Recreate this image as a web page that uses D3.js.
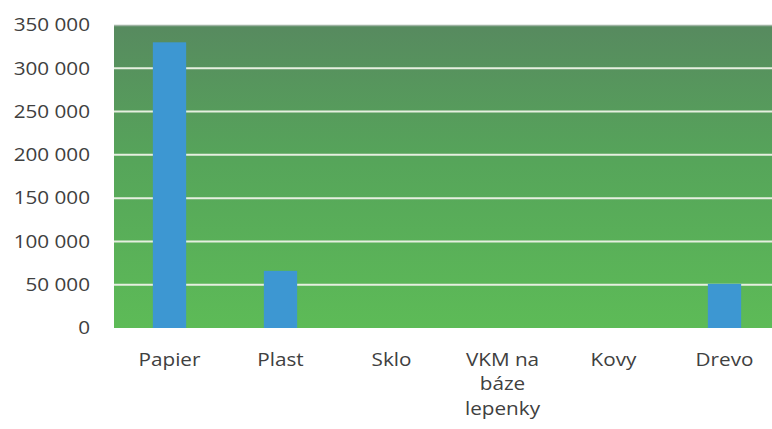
<!DOCTYPE html>
<html><head><meta charset="utf-8">
<script src="https://cdn.jsdelivr.net/npm/d3@7/dist/d3.min.js"></script>
<style>body{margin:0;background:#fff}svg{display:block}</style>
</head><body>
<script>
const categories = [["Papier"],["Plast"],["Sklo"],["VKM na","báze","lepenky"],["Kovy"],["Drevo"]];
const values = [330000, 66000, 0, 0, 0, 51000];
const ticks = [0,50000,100000,150000,200000,250000,300000,350000];

(function(){
const W=772,H=429;
const svg=d3.select("body").append("svg").attr("width",W).attr("height",H);
const pL=114,pR=780,pT=25,pB=328;
const x=d3.scaleBand().domain(d3.range(categories.length)).range([pL,pR]).paddingInner(0.7).paddingOuter(0.35);
const y=d3.scaleLinear().domain([0,350000]).range([pB,pT]);
const defs=svg.append("defs");
const g=defs.append("linearGradient").attr("id","bg").attr("x1",0).attr("y1",0).attr("x2",0).attr("y2",1);
g.append("stop").attr("offset","0%").attr("stop-color","#578a5f");
g.append("stop").attr("offset","45%").attr("stop-color","#56a55a");
g.append("stop").attr("offset","100%").attr("stop-color","#5dbb57");
svg.append("rect").attr("x",pL).attr("y",pT).attr("width",pR-pL).attr("height",pB-pT).attr("fill","url(#bg)");
svg.append("line").attr("x1",pL).attr("x2",pR).attr("y1",pT+0.5).attr("y2",pT+0.5).attr("stroke","#9fb3a3").attr("stroke-width",1.5);
svg.append("g").selectAll("line").data(ticks.filter(t=>t>0&&t<350000)).join("line")
  .attr("x1",pL).attr("x2",pR).attr("y1",d=>y(d)).attr("y2",d=>y(d))
  .attr("stroke","#e6efe0").attr("stroke-width",2);
svg.append("g").selectAll("rect").data(values).join("rect")
  .attr("x",(d,i)=>x(i)).attr("width",x.bandwidth())
  .attr("y",d=>y(d)).attr("height",d=>y(0)-y(d)).attr("fill","#3d97d2");
const fmt=v=>d3.format(",")(v).replace(/,/g," ");
const ff="'Open Sans', sans-serif";
const sx=1.15;
svg.append("g").selectAll("text").data(ticks).join("text")
  .attr("transform",d=>`translate(90,${y(d)}) scale(${sx},1)`).attr("dy","0.35em").attr("text-anchor","end")
  .attr("font-family",ff).attr("font-size",18).attr("fill","#404040")
  .text(fmt);
const lab=svg.append("g").selectAll("text").data(categories).join("text")
  .attr("text-anchor","middle").attr("font-family",ff).attr("font-size",18).attr("fill","#404040")
  .attr("transform",(d,i)=>`translate(${x(i)+x.bandwidth()/2},366) scale(${sx},1)`);
lab.selectAll("tspan").data(d=>d).join("tspan")
  .attr("x",0).attr("dy",(d,i)=>i?24.5:0).text(d=>d);
})();
</script>
</body></html>
